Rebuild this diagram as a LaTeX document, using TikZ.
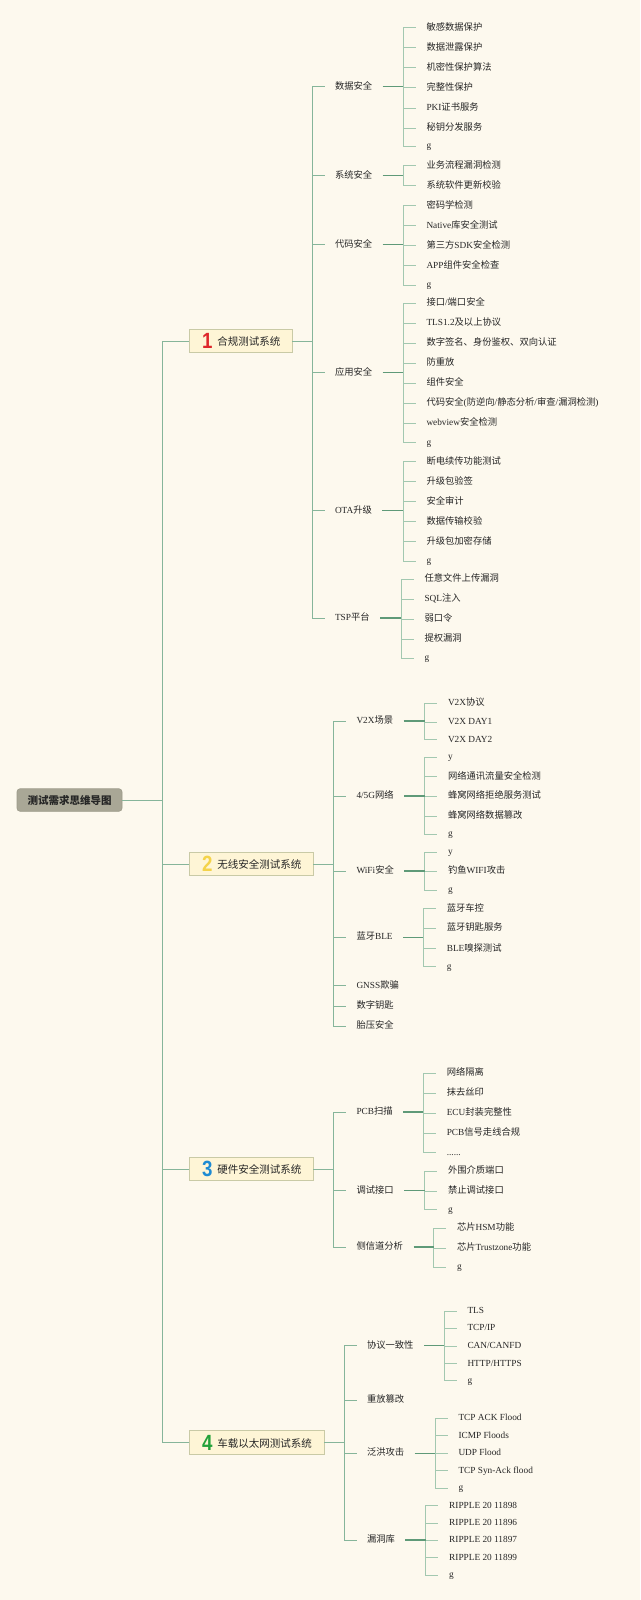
\documentclass[tikz,border=0pt]{standalone}
\usepackage{fontspec}
\usepackage{graphicx}
\setmainfont{Liberation Serif}
\newfontfamily\cjk{Noto Sans CJK SC}
\newfontfamily\digitfont{Liberation Sans}
\definecolor{bgc}{HTML}{FDF9EE}
\definecolor{trunkc}{HTML}{86B59A}
\definecolor{stemc}{HTML}{5F9A78}
\definecolor{twigc}{HTML}{A3C8B0}
\definecolor{boxfill}{HTML}{FEF5D6}
\definecolor{boxline}{HTML}{C9CAA6}
\definecolor{rootfill}{HTML}{A9A796}
\definecolor{rootline}{HTML}{9C9A89}
\definecolor{txt}{HTML}{262626}
\definecolor{numA}{HTML}{DE262B}
\definecolor{numB}{HTML}{F4D34A}
\definecolor{numC}{HTML}{1D8BD3}
\definecolor{numD}{HTML}{24A23A}
% automatic CJK font switching
\XeTeXinterchartokenstate=1
\newXeTeXintercharclass\CJKclass
\newcount\cjkc
\cjkc="4E00 \loop\XeTeXcharclass\cjkc=\CJKclass \ifnum\cjkc<"9FFF \advance\cjkc 1 \repeat
\cjkc="3000 \loop\XeTeXcharclass\cjkc=\CJKclass \ifnum\cjkc<"303F \advance\cjkc 1 \repeat
\cjkc="FF00 \loop\XeTeXcharclass\cjkc=\CJKclass \ifnum\cjkc<"FFEF \advance\cjkc 1 \repeat
\XeTeXinterchartoks 0 \CJKclass = {\begingroup\cjk}
\XeTeXinterchartoks 4095 \CJKclass = {\begingroup\cjk}
\XeTeXinterchartoks \CJKclass 0 = {\endgroup}
\XeTeXinterchartoks \CJKclass 4095 = {\endgroup}
\tikzset{
  trunk/.style={draw=trunkc, line width=1pt},
  stem/.style={draw=stemc, line width=1.2pt},
  twig/.style={draw=twigc, line width=0.9pt},
  rootbox/.style={fill=rootfill, draw=rootline, line width=0.6pt, rounded corners=3pt,
    minimum width=105pt, minimum height=22.5pt, inner sep=0pt, outer sep=0pt,
    text=black!85, font=\fontsize{10.5}{12}\selectfont\bfseries},
  grp/.style={fill=boxfill, draw=boxline, line width=0.8pt, anchor=west,
    minimum height=23.5pt, inner xsep=12pt, inner ysep=2pt, outer sep=0pt,
    text=black!85, font=\cjk\fontsize{10.5}{12}\selectfont},
  mid/.style={anchor=west, inner sep=0pt, outer ysep=0pt, outer xsep=10.5pt,
    text height=7pt, text depth=2pt, text=txt, font=\fontsize{9.3}{10}\selectfont},
  leafnode/.style={anchor=west, inner sep=0pt, outer ysep=0pt, outer xsep=11pt,
    text height=7pt, text depth=2pt, text=txt, font=\fontsize{9.3}{10}\selectfont}
}
\newcommand\gnum[2]{\hspace{1pt}\raisebox{-3pt}{\scalebox{0.85}[1]{\textcolor{#1}{\digitfont\bfseries\fontsize{22}{22}\selectfont #2}}}\hspace{5pt}}
\newcommand\sixdots{......}
\newcommand\midnode[4]{\node[mid] (#1) at ({#2+12.5},#3) {#4};}
\newcommand\kids[3]{%
  \coordinate (#1x) at (#2,0);
  \coordinate (#1j) at (#1.east -| #1x);
  \draw[trunk] (#1.east) -- (#1j);
  \foreach \ch in {#3} {\draw[trunk] (#1j) |- (\ch.west);}%
}
\newcommand\branchgroup[3]{%
  \coordinate (#1x) at (#2,0);
  \coordinate (#1j) at (#1.east -| #1x);
  \foreach \yy/\lbl [count=\k] in {#3} {%
    \node[leafnode] (#1-\k) at ({#2+12.5},\yy) {\lbl};
    \draw[twig] (#1j) |- (#1-\k.west);
  }%
  \draw[stem] (#1.east) -- (#1j);
}
\begin{document}
\begin{tikzpicture}[x=1pt,y=-1pt]
\fill[bgc] (0,0) rectangle (640,1600);
\useasboundingbox (0,0) rectangle (640,1600);

% root and main branches
\node[rootbox] (root) at (69.5,800) {测试需求思维导图};
\node[grp] (g1) at (189,341) {\gnum{numA}{1}合规测试系统};
\node[grp] (g2) at (189,864) {\gnum{numB}{2}无线安全测试系统};
\node[grp] (g3) at (189,1169) {\gnum{numC}{3}硬件安全测试系统};
\node[grp] (g4) at (189,1442.5) {\gnum{numD}{4}车载以太网测试系统};
\coordinate (mx) at (162.4,0);
\coordinate (mj) at (root.east -| mx);
\draw[trunk] (root.east) -- (mj);
\foreach \gg in {g1,g2,g3,g4} {\draw[trunk] (mj) |- (\gg.west);}

% ---- group 1
\midnode{d}{312}{86.7}{数据安全}
\midnode{s}{312}{175.5}{系统安全}
\midnode{c}{312}{244.5}{代码安全}
\midnode{a}{312}{372.5}{应用安全}
\midnode{o}{312}{510.5}{OTA升级}
\midnode{t}{312}{618}{TSP平台}
\kids{g1}{312}{d,s,c,a,o,t}
\branchgroup{d}{403}{27.7/敏感数据保护, 47.7/数据泄露保护, 67.7/机密性保护算法, 87.7/完整性保护, 108/PKI证书服务, 128/秘钥分发服务, 146.3/g}
\branchgroup{s}{403}{165.7/业务流程漏洞检测, 185.7/系统软件更新校验}
\branchgroup{c}{403}{205.7/密码学检测, 225.7/Native库安全测试, 245.7/第三方SDK安全检测, 265.7/APP组件安全检查, 285/g}
\branchgroup{a}{403}{303.3/{接口/端口安全}, 323.3/TLS1.2及以上协议, 343.3/数字签名、身份鉴权、双向认证, 363.3/防重放, 383.3/组件安全, 403.3/{代码安全(防逆向/静态分析/审查/漏洞检测)}, 423.3/webview安全检测, 442.5/g}
\branchgroup{o}{403}{461.7/断电续传功能测试, 481.7/升级包验签, 501.7/安全审计, 521.7/数据传输校验, 541.7/升级包加密存储, 561/g}
\branchgroup{t}{401}{579/任意文件上传漏洞, 599/SQL注入, 619/弱口令, 639/提权漏洞, 658.3/g}

% ---- group 2
\midnode{v}{333.5}{721}{V2X场景}
\midnode{n}{333.5}{796}{{4/5G网络}}
\midnode{w}{333.5}{871}{WiFi安全}
\midnode{b}{333.5}{937.3}{蓝牙BLE}
\midnode{gn}{333.5}{985.7}{GNSS欺骗}
\midnode{dk}{333.5}{1006.3}{数字钥匙}
\midnode{tp}{333.5}{1026}{胎压安全}
\kids{g2}{333.5}{v,n,w,b,gn,dk,tp}
\branchgroup{v}{424.5}{703.3/V2X协议, 722.3/V2X DAY1, 739.7/V2X DAY2}
\branchgroup{n}{424.5}{757/y, 776.7/网络通讯流量安全检测, 796.3/蜂窝网络拒绝服务测试, 816/蜂窝网络数据篡改, 834.3/g}
\branchgroup{w}{424.5}{852/y, 871/钓鱼WIFI攻击, 890/g}
\branchgroup{b}{423.3}{908.7/蓝牙车控, 928.3/蓝牙钥匙服务, 948.7/BLE嗅探测试, 966.5/g}

% ---- group 3
\midnode{pcb}{333.5}{1112}{PCB扫描}
\midnode{dbg}{333.5}{1190.5}{调试接口}
\midnode{sc}{333.5}{1247}{侧信道分析}
\kids{g3}{333.5}{pcb,dbg,sc}
\branchgroup{pcb}{423.3}{1073.3/网络隔离, 1093.3/抹去丝印, 1113.3/ECU封装完整性, 1133.3/PCB信号走线合规, 1152.5/\sixdots}
\branchgroup{dbg}{424.5}{1171/外围介质端口, 1191/禁止调试接口, 1209.5/g}
\branchgroup{sc}{433.5}{1228.3/芯片HSM功能, 1248.3/芯片Trustzone功能, 1267/g}

% ---- group 4
\midnode{pr}{344}{1345.7}{协议一致性}
\midnode{rp}{344}{1400}{重放篡改}
\midnode{fl}{344}{1453.3}{泛洪攻击}
\midnode{vl}{344}{1540}{漏洞库}
\kids{g4}{344}{pr,rp,fl,vl}
\branchgroup{pr}{444}{1311/TLS, 1328.3/{TCP/IP}, 1346.3/{CAN/CANFD}, 1363.7/{HTTP/HTTPS}, 1380.5/g}
\branchgroup{fl}{435}{1418.3/TCP ACK Flood, 1435.7/ICMP Floods, 1453.3/UDP Flood, 1470.7/TCP Syn-Ack flood, 1488.3/g}
\branchgroup{vl}{425.7}{1505.7/RIPPLE 20 11898, 1523/RIPPLE 20 11896, 1540.3/RIPPLE 20 11897, 1557.7/RIPPLE 20 11899, 1575.3/g}
\end{tikzpicture}
\end{document}
